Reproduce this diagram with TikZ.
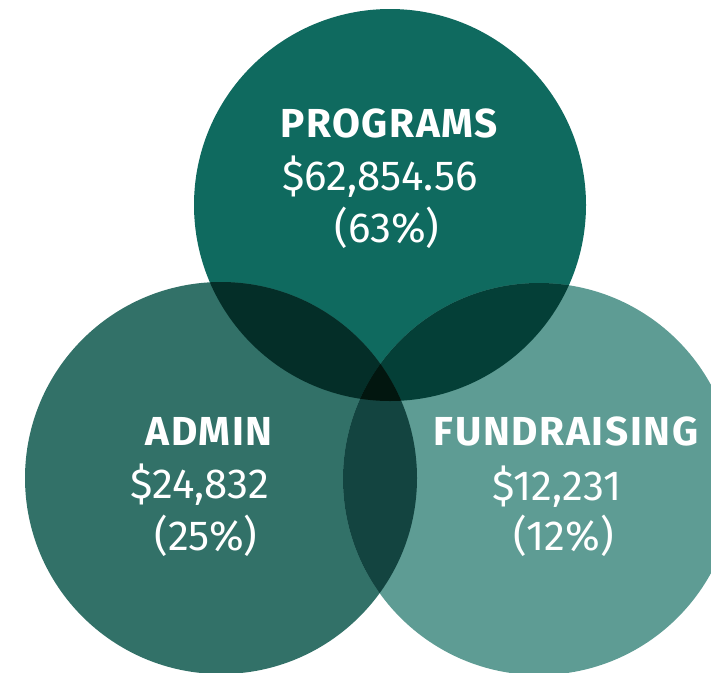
\documentclass[tikz,border=0pt]{standalone}
\usepackage{fontspec}
\setmainfont{Fira Sans}
\newfontfamily\headfont[LetterSpace=4]{Fira Sans Bold}
\definecolor{cTop}{HTML}{0F6A5F}
\definecolor{cLeft}{HTML}{327168}
\definecolor{cRight}{HTML}{5E9C94}
\definecolor{cTL}{HTML}{042E28}
\definecolor{cTR}{HTML}{043F37}
\definecolor{cLR}{HTML}{134440}
\definecolor{cTLR}{HTML}{02160F}
\tikzset{
  headtxt/.style={text=white, anchor=base, inner sep=0pt, font=\fontsize{40.5}{44}\headfont},
  valtxt/.style={text=white, anchor=base, inner sep=0pt, font=\fontsize{42}{46}\selectfont},
}
\begin{document}
\begin{tikzpicture}[x=1pt,y=-1pt]
\useasboundingbox (0,0) rectangle (711,672);
\clip (0,0) rectangle (711,672);
\def\R{196}
\coordinate (ct) at (390,205);
\coordinate (cl) at (221,478);
\coordinate (cr) at (539,479);
% base circles
\fill[cTop] (ct) circle (\R);
\fill[cLeft] (cl) circle (\R);
\fill[cRight] (cr) circle (\R);
% pairwise overlaps
\begin{scope}
  \clip (ct) circle (\R);
  \fill[cTL] (cl) circle (\R);
  \fill[cTR] (cr) circle (\R);
\end{scope}
\begin{scope}
  \clip (cl) circle (\R);
  \fill[cLR] (cr) circle (\R);
\end{scope}
\begin{scope}
  \clip (ct) circle (\R);
  \clip (cl) circle (\R);
  \fill[cTLR] (cr) circle (\R);
\end{scope}
% texts
\node[headtxt] (ph) at (389,137) {PROGRAMS};
\node[valtxt] (pv) at (380,190) {\$62,854.56};
\node[valtxt] (pp) at (387,242) {(63\%)};
\node[headtxt] (ah) at (209,445) {ADMIN};
\node[valtxt] (av) at (200,498) {\$24,832};
\node[valtxt] (ap) at (206,550) {(25\%)};
\node[headtxt] (fh) at (566,445) {FUNDRAISING};
\node[valtxt] (fv) at (557,500) {\$12,231};
\node[valtxt] (fp) at (564,550) {(12\%)};
\end{tikzpicture}
\end{document}
